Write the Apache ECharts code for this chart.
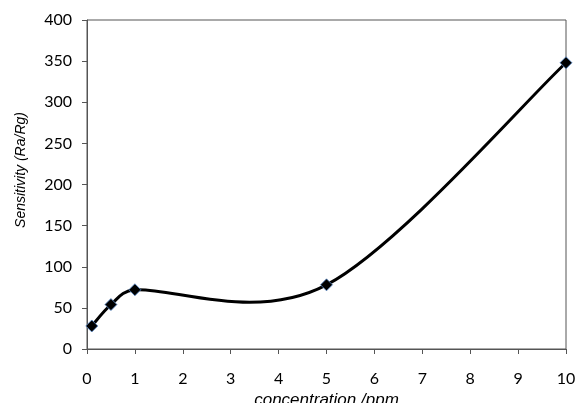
<!DOCTYPE html>
<html><head><meta charset="utf-8">
<script src="https://cdn.jsdelivr.net/npm/echarts@6/dist/echarts.min.js"></script>
<style>html,body{margin:0;padding:0;background:#fff}#c{width:576px;height:403px}</style>
</head><body><div id="c"></div>
<script>
const concentration = [0.1, 0.5, 1, 5, 10];
const sensitivity = [28, 54, 72, 78, 348];
const xTicks = [0,1,2,3,4,5,6,7,8,9,10];
const yTicks = [0,50,100,150,200,250,300,350,400];

const chart = echarts.init(document.getElementById('c'));
const font = 'Lato, "Open Sans", sans-serif';
const nameFont = '"Liberation Sans", Arial, sans-serif';
const pts = concentration.map((x, i) => [x, sensitivity[i]]);

function ctrl(a, b, half) {
  let vx = (b[0] - a[0]) / 6, vy = (b[1] - a[1]) / 6;
  const len = Math.hypot(vx, vy);
  if (len > half && len > 0) { vx *= half / len; vy *= half / len; }
  return [vx, vy];
}

function renderSegment(params, api) {
  const i = params.dataIndex;
  const n = pts.length;
  if (i >= n - 1) return null;
  const P = pts.map(p => api.coord(p));
  const p0 = P[Math.max(i - 1, 0)], p1 = P[i], p2 = P[i + 1], p3 = P[Math.min(i + 2, n - 1)];
  const half = Math.hypot(p2[0] - p1[0], p2[1] - p1[1]) / 2;
  const v1 = ctrl(p0, p2, half), v2 = ctrl(p1, p3, half);
  return {
    type: 'bezierCurve',
    shape: {
      x1: p1[0], y1: p1[1], x2: p2[0], y2: p2[1],
      cpx1: p1[0] + v1[0], cpy1: p1[1] + v1[1],
      cpx2: p2[0] - v2[0], cpy2: p2[1] - v2[1]
    },
    style: {stroke: '#000', lineWidth: 3, fill: null, lineCap: 'round'}
  };
}

chart.setOption({
  animation: false,
  grid: {left: 87, right: 10, top: 20, bottom: 54, show: true, borderColor: '#555', borderWidth: 1,
         containLabel: false, outerBoundsMode: 'none'},
  xAxis: {
    type: 'value', min: 0, max: 10, interval: 1,
    name: 'concentration /ppm', nameLocation: 'middle', nameGap: 37,
    nameTextStyle: {fontStyle: 'italic', fontSize: 17, color: '#000', fontFamily: nameFont},
    axisLine: {lineStyle: {color: '#555'}},
    axisTick: {show: true, inside: false, length: 5, lineStyle: {color: '#555'}},
    axisLabel: {fontSize: 16, color: '#000', margin: 22, fontFamily: font},
    splitLine: {show: false}
  },
  yAxis: {
    type: 'value', min: 0, max: 400, interval: 50,
    axisLine: {show: true, lineStyle: {color: '#555'}},
    axisTick: {show: true, length: 5, lineStyle: {color: '#555'}},
    axisLabel: {fontSize: 16, color: '#000', margin: 15, fontFamily: font},
    splitLine: {show: false}
  },
  graphic: [{
    type: 'text', x: 21, y: 170, rotation: Math.PI / 2,
    style: {text: 'Sensitivity (Ra/Rg)', fontStyle: 'italic', fontSize: 14, fontFamily: nameFont,
            fill: '#000', align: 'center', verticalAlign: 'middle'}
  }],
  series: [{
    type: 'custom',
    renderItem: renderSegment,
    data: pts,
    z: 2
  }, {
    type: 'scatter',
    data: pts,
    symbol: 'diamond', symbolSize: 12,
    itemStyle: {color: '#000', borderColor: '#5a8ccc', borderWidth: 0.8, opacity: 1},
    z: 3
  }]
});
</script></body></html>
